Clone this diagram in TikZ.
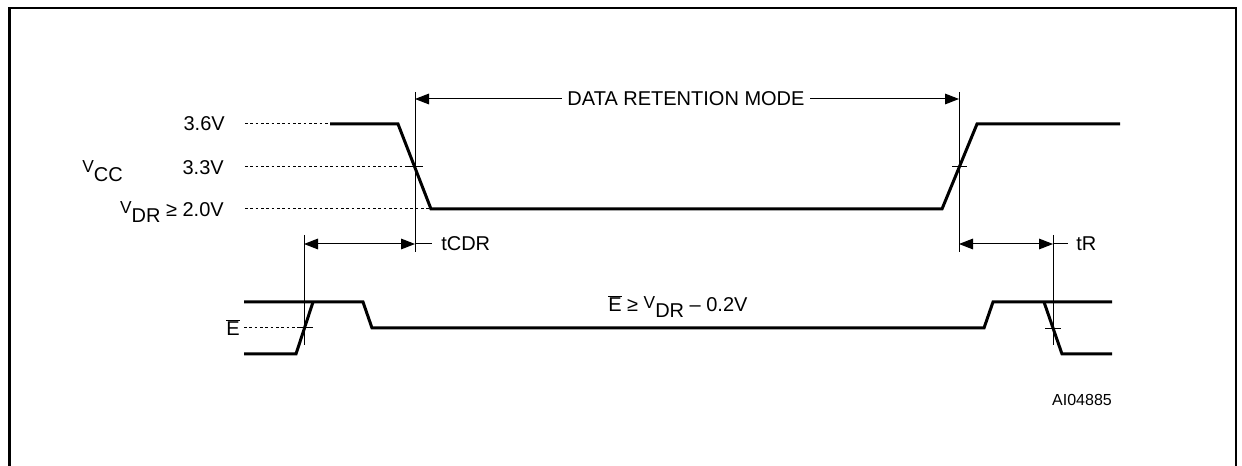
\documentclass[tikz,border=0pt]{standalone}
\usepackage{fontspec}
\setmainfont{Liberation Sans}
\usetikzlibrary{arrows.meta}
\newcommand{\Vsig}[1]{\raisebox{2.4pt}{\fontsize{13}{14}\selectfont V}\raisebox{-4.2pt}{#1}}
\newcommand{\Ebar}{\ensuremath{\overline{\mbox{E}}}}
\begin{document}
\begin{tikzpicture}[x=0.75pt,y=-0.75pt,
  font=\fontsize{15}{17}\selectfont,
  wave/.style={line width=2.25pt,line join=miter,line cap=butt},
  thinline/.style={line width=0.75pt},
  dotline/.style={line width=0.75pt,dash pattern=on 2pt off 2pt},
  dimarrow/.style={thinline,{Triangle[length=10.5pt,width=8pt]}-{Triangle[length=10.5pt,width=8pt]}},
  onearrow/.style={thinline,-{Triangle[length=10.5pt,width=8pt]}},
  lbl/.style={inner sep=0pt},
  frame/.style={line width=1.9pt}]
\useasboundingbox (0,0) rectangle (1242,466);
\clip (0,0) rectangle (1242,466);
% frame
\draw[frame] (9.5,480) -- (9.5,8) -- (1236,8) -- (1236,480);

% key coordinates
\coordinate (m1top) at (415,92);  \coordinate (m1bot) at (415,252);
\coordinate (m2top) at (959,92);  \coordinate (m2bot) at (959,252);
\coordinate (m3top) at (304,235); \coordinate (m3bot) at (304,345);
\coordinate (m4top) at (1053,235);\coordinate (m4bot) at (1053,345);
\draw[thinline] (m1top) -- (m1bot);
\draw[thinline] (m2top) -- (m2bot);
\draw[thinline] (m3top) -- (m3bot);
\draw[thinline] (m4top) -- (m4bot);

% VCC labels
\node[lbl,anchor=base east] (l36) at (225,131) {3.6V};
\node[lbl,anchor=base east] (l33) at (224,174.5) {3.3V};
\node[lbl,anchor=base east] (l20) at (224,217) {\Vsig{DR} ≥ 2.0V};
\node[lbl,anchor=base west] (lvcc) at (82,176) {\Vsig{CC}};

% dotted reference lines
\coordinate (d36a) at (245,124); \coordinate (d36b) at (330,124);
\coordinate (d33a) at (245,167); \coordinate (d33b) at (405,167);
\coordinate (d20a) at (245,209); \coordinate (d20b) at (431,209);
\draw[dotline] (d36a) -- (d36b);
\draw[dotline] (d33a) -- (d33b);
\draw[dotline] (d20a) -- (d20b);

% VCC waveform
\draw[wave] (330,124) -- (398,124) -- (431,209) -- (942,209) -- (977,124) -- (1120,124);
% crossing ticks
\draw[thinline] (405,167) -- (423,167);
\draw[thinline] (952,167) -- (967,167);

% data retention mode
\node[lbl,inner xsep=4pt] (drm) at (686,99) {DATA RETENTION MODE};
\draw[onearrow] (drm.west) -- (m1top |- drm.west);
\draw[onearrow] (drm.east) -- (m2top |- drm.east);

% tCDR
\coordinate (a1) at (304,244); \coordinate (a2) at (415,244); \coordinate (a3) at (432,244);
\draw[dimarrow] (a1) -- (a2);
\draw[thinline] (a2) -- (a3);
\node[lbl,anchor=base west] (tcdr) at (441,251) {tCDR};

% tR
\coordinate (b1) at (959,244); \coordinate (b2) at (1053,244); \coordinate (b3) at (1068,244);
\draw[dimarrow] (b1) -- (b2);
\draw[thinline] (b2) -- (b3);
\node[lbl,anchor=base west] (tr) at (1076,251) {tR};

% E signal
\node[lbl,anchor=base west] (ebar) at (226,336) {\Ebar};
\draw[dotline] (244,328) -- (298,328);
\draw[thinline] (297,328) -- (313,328);
\draw[wave] (244,302) -- (363,302) -- (372,328) -- (984,328) -- (993,302) -- (1112,302);
\draw[wave] (244,354) -- (296,354) -- (313,302);
\draw[wave] (1044,302) -- (1062,354) -- (1112,354);
\draw[thinline] (1045,329) -- (1061,329);
\node[lbl,anchor=base west] (econd) at (608,312) {\Ebar{} ≥ \Vsig{DR} \textendash{} 0.2V};

% figure id
\node[lbl,font=\fontsize{12}{14}\selectfont] (aid) at (1082,400) {AI04885};
\end{tikzpicture}
\end{document}
